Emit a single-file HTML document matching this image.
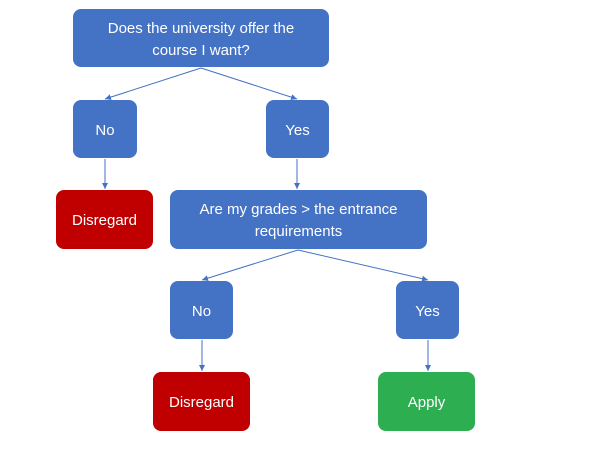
<!DOCTYPE html>
<html><head><style>
body{margin:0;width:597px;height:459px;background:#fff;position:relative;overflow:hidden;font-family:"Liberation Sans",sans-serif}
.b{position:absolute;background:#4472C4;border-radius:8px;color:#fff;display:flex;align-items:center;justify-content:center;text-align:center;font-size:15px;line-height:22px;box-sizing:border-box;padding-top:3px}
.r{background:#C00000}.g{background:#2DAE50}
svg{position:absolute;left:0;top:0}
</style></head><body>
<svg width="597" height="459"><defs><marker id="a" markerWidth="8" markerHeight="8" refX="6" refY="3" orient="auto" markerUnits="userSpaceOnUse"><path d="M0,0L6,3L0,6z" fill="#4472C4"/></marker></defs>
<g stroke="#4472C4" stroke-width="1" marker-end="url(#a)">
<line x1="201" y1="68" x2="105" y2="99"/>
<line x1="201" y1="68" x2="297" y2="99"/>
<line x1="105" y1="159" x2="105" y2="189"/>
<line x1="297" y1="159" x2="297" y2="189"/>
<line x1="298" y1="250" x2="202" y2="280"/>
<line x1="298" y1="250" x2="428" y2="280"/>
<line x1="202" y1="340" x2="202" y2="371"/>
<line x1="428" y1="340" x2="428" y2="371"/>
</g></svg>
<div class="b" style="left:73px;top:9px;width:256px;height:58px">Does the university offer the<br>course I want?</div>
<div class="b" style="left:73px;top:100px;width:64px;height:58px">No</div>
<div class="b" style="left:266px;top:100px;width:63px;height:58px">Yes</div>
<div class="b r" style="left:56px;top:190px;width:97px;height:59px">Disregard</div>
<div class="b" style="left:170px;top:190px;width:257px;height:59px">Are my grades &gt; the entrance<br>requirements</div>
<div class="b" style="left:170px;top:281px;width:63px;height:58px">No</div>
<div class="b" style="left:396px;top:281px;width:63px;height:58px">Yes</div>
<div class="b r" style="left:153px;top:372px;width:97px;height:59px">Disregard</div>
<div class="b g" style="left:378px;top:372px;width:97px;height:59px">Apply</div>
</body></html>
